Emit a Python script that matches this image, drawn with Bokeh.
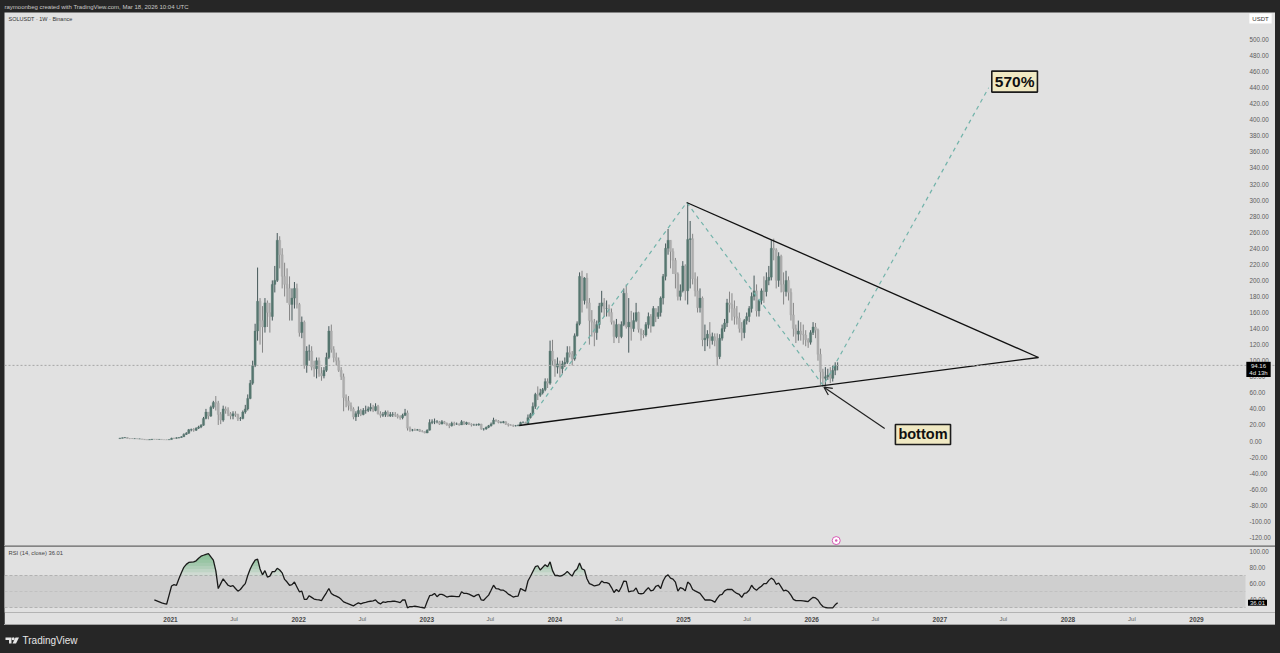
import numpy as np
import pandas as pd
from bokeh.embed import file_html
from bokeh.resources import INLINE
from bokeh.layouts import column
from bokeh.plotting import figure
from bokeh.models import (Range1d, LinearAxis, FixedTicker, PrintfTickFormatter, Label, Arrow,
                          OpenHead, Span, Div, GlobalInlineStyleSheet)

# ---- data: weekly candles from 2020-08-10
first_week = "2020-08-10"
c20 = [3.5,3.9,4.3,3.2,3.1,2.9,2.9,2.6,2.6,2.2,1.6,1.4,1.7,2.3,2.2,1.9,2.0,1.7,1.6,1.5,1.8]
h20 = [3.9,4.3,4.9,4.7,3.4,3.5,3.3,3.0,2.9,2.7,2.3,1.7,1.9,2.5,2.5,2.5,2.3,2.1,1.8,1.8,1.9]
l20 = [2.6,3.2,3.7,3.0,2.3,2.6,2.5,2.4,2.4,2.1,1.5,1.2,1.3,1.7,2.0,1.7,1.7,1.6,1.4,1.2,1.4]
c21 = [3.4,3.3,3.9,4.3,5.2,8.2,9.6,14,14.2,13.5,16,17.5,19.5,28,36,31,42,48,47,33,26,40,38,34,31,34,33,28,28,36,40,53,72,94,137,174,150,142,172,160,155,195,200,250,232,205,195,190,170,178,190,170]
h21 = [4.1,4.0,4.6,4.9,6.0,9.5,11,15,15.5,16,17,19,21,30,40,36,44,50,56,50,36,44,43,42,36,37,37,34,30,38,45,58,76,100,146,216,178,168,178,175,172,200,218,259,255,240,222,215,205,190,198,196]
l21 = [1.9,2.6,2.9,3.3,4.0,5.0,7.5,9,12,11.5,12.5,15,16,19,27,27,30,40,38,20,21,24,34,31,27,27,30,25,25,27,34,38,52,70,92,125,120,110,135,142,135,150,185,198,215,190,180,172,150,150,165,165]
c22 = [135,148,94,112,112,92,90,100,84,81,88,104,137,114,104,100,88,80,54,50,44,40,30,34,38,33,38,38,40,42,38,43,34,32,33,36,31,33,33,32,30,29,32,35,16,13.5,13.8,13.5,14,12,11.8,10]
h22 = [172,155,150,118,120,118,100,104,104,92,92,110,143,145,118,110,104,92,84,58,56,48,42,37,43,40,41,44,43,47,45,47,45,37,36,38,38,36,36,36,34,32,34,40,38,18,15,15.5,15,15,13.5,12.2]
l22 = [130,128,90,85,100,88,80,78,80,75,78,86,102,110,98,94,86,76,37,42,38,37,27,25,30,31,32,34,36,37,36,37,33,29,30,30,30,30,30,30,28,26.5,27,31,13,11.5,12,12.5,13,11.2,10.8,9.5]
c23 = [13.5,23,24,24,24,21,24,22,20,19,22,21,21,20,24,21,23,21,20,20,20,21,15,15,17,19,21,26,25,23,23,24,21,20,19.5,19,19,19.5,23,23,21,29,33,43,58,57,60,64,74,72,112,100]
h23 = [14.5,27,27,28,26,25,26,25,23,22,24,24,23,22,26,25,24,23,22,21.5,21.5,22,21.5,16,18,20,23,29,27,26,24.5,25,24.5,22,21,20.5,20,20.5,24,24.5,24,33,35,48,60,68,65,66,78,78,125,126]
l23 = [9.8,13,21,21,22,20,22,21,19,16,18,19,20,19,20,20,20,20,18,19,19,19,14,13,14,16,18,21,24,22,22,22,20,18,19,17.5,18,18.5,19,22,20,21,28,32,40,51,55,58,62,66,70,94]
c24 = [92,96,90,96,98,110,108,102,131,146,205,175,203,172,150,148,135,145,168,172,165,165,160,148,130,145,130,145,184,142,148,140,150,160,139,133,132,145,155,143,165,155,160,178,205,240,250,236,225,208,180,187,218]
h24 = [102,104,100,100,104,118,118,112,134,149,210,212,204,209,178,163,152,150,172,187,178,175,170,165,150,152,146,149,190,195,178,162,160,172,161,140,138,148,160,158,168,165,168,180,208,246,264,248,240,228,210,195,224]
l24 = [80,84,79,84,92,96,104,94,100,130,144,160,170,165,120,130,118,126,140,160,155,155,155,145,122,128,122,128,143,140,110,125,136,148,135,125,128,130,140,135,143,148,152,155,170,200,232,215,208,190,175,175,185]
c25 = [187,251,252,202,187,166,178,126,128,133,125,130,125,105,128,140,147,172,170,165,155,153,140,135,150,155,165,180,187,162,175,187,186,200,204,240,238,200,230,195,186,200,185,157,140,133,137,133,132,126,123,135]
h25 = [220,296,274,258,210,205,190,180,145,138,148,135,134,134,133,145,152,177,186,184,175,168,160,148,152,160,168,185,206,195,176,190,205,210,218,250,252,240,235,232,210,212,205,190,172,145,150,148,145,138,128,138]
l25 = [175,170,190,195,180,160,160,118,112,118,115,120,118,94,102,125,136,142,160,150,145,145,135,125,128,145,148,160,175,155,155,170,172,180,194,200,225,190,192,185,170,180,175,150,130,122,125,125,120,118,116,120]
c26 = [142,138,108,86,78,80,82,78,88,94,94.16]
h26 = [148,147,140,115,90,92,90,92,94,98,98]
l26 = [132,128,100,70,67,68,76,72,74,82,88]

# RSI(14) per week, starting 14 weeks after the first candle
rsi_values = [39.4,38.2,37.0,35.7,34.9,34.1,45.5,56.9,58.6,57.8,65.9,73.3,80.2,83.9,86.3,86.7,87.1,88.4,91.6,94.1,95.3,96.5,97.3,93.3,89.2,76.1,53.7,59.8,65.9,61.8,57.8,56.5,57.4,53.7,50.4,52.5,56.5,59.8,70,78.2,84.3,89.2,90.4,78.2,70.8,76.1,68,69.2,74.9,74.9,79,76.9,73.3,65.1,61.8,57.8,58.6,61.8,55.7,49.6,50.4,40.2,40.2,44.7,42.7,40.6,39.8,39.4,38.6,43.5,48.4,53.7,47.6,45.5,44.3,42.7,40.2,37,35.7,34.5,33.3,32,34.1,35.7,34.5,35.7,36.5,37.4,37.8,38.2,39.4,36.1,34.5,37,36.5,37.4,37.4,37.8,37.8,37,36.1,39.4,39.4,29.6,31.2,31.2,31.6,31.2,30.4,30,29.2,37.4,44.7,
45.5,47.6,43.5,46.3,46.3,45.1,43.1,43.9,44.3,43.9,43.5,43.5,49.6,47.6,47.6,46.7,45.1,43.5,45.5,46.3,39.4,39,42.3,45.5,51.6,57.8,53.7,53.3,51.6,51.6,49.6,46.7,45.1,43.1,43.9,44.3,53.7,52,50.4,63.1,68.8,74.9,81,82.2,76.9,80.2,83.5,81,87.1,76.1,70,70,69.2,70,72,74.9,72,69.2,75.3,78.2,85.5,78.2,76.9,65.9,59.8,58.6,56.9,57.8,58.6,63.1,61,61,59.8,54.9,48.8,52.5,49.6,55.7,63.1,62.7,49.6,50.4,50.8,54.5,47.6,47.2,47.6,51.6,54.9,50.8,51.6,56.5,57.8,53.7,63.1,68.8,70.8,66.7,65.5,61.8,50.4,54.9,53.7,50.8,61.8,59,52.5,50.8,49.2,47.6,43.5,39.4,39.4,39.4,38.6,36.5,41.4,45.5,46.3,50.8,52.5,52.5,52.5,49.6,47.6,46.3,42.7,47.6,48.4,51.6,57.8,53.7,51.6,54.5,56.5,59.8,59.8,63.9,66.7,64.7,59,60.6,55.7,50.8,51.6,49.6,45.5,40.2,38.6,38.6,38.6,38.2,37.8,37.4,40.2,42.7,41.9,39.4,34.5,31.2,30,29.6,29.6,29.6,33.3,36.0]

price_ticks = list(range(-120, 501, 20))
rsi_ticks = [40, 60, 80, 100]
year_labels = {"2021-01-01": "2021", "2022-01-01": "2022", "2023-01-01": "2023", "2024-01-01": "2024",
               "2025-01-01": "2025", "2026-01-01": "2026", "2027-01-01": "2027", "2028-01-01": "2028",
               "2029-01-01": "2029"}
month_labels = ["2021-07-01", "2022-07-01", "2023-07-01", "2024-07-01", "2025-07-01", "2026-07-01",
                "2027-07-01", "2028-07-01"]

# drawings on the chart, as date / price pairs
support_dates = ["2023-09-21", "2027-10-09"]
support_prices = [19.3, 104.0]
resist_dates = ["2025-01-10", "2027-10-09"]
resist_prices = [297.0, 104.0]
path_dates = ["2023-10-14", "2025-01-10", "2026-02-03", "2027-05-20"]
path_prices = [23.0, 297.0, 69.0, 440.0]
last_price = 94.16
last_rsi = 36.01

# ---- colours and layout
DARK = "#262626"
PANEL = "#e1e1e1"
BAND = "#cfcfcf"
SEP = "#a2a2a2"
UP, DOWN = "#56766f", "#adadad"
UPW, DOWNW = "#46585a", "#868686"
TEAL = "#72b3aa"
TAG = "#f0e9c3"
FONT = "Liberation Sans"
PANE_W = 1271   # panes run from x=4 to x=1275 of the window
PANE_MARGIN = (0, 5, 0, 4)

def ms(d):
    return pd.Timestamp(d).value / 1e6

T0 = ms("2021-01-01")
MS_PER_PX = 2922 / 1026 * 86400000
x_range = Range1d(T0 + (4 - 170) * MS_PER_PX, T0 + (1275 - 170) * MS_PER_PX)
PLOT_END = T0 + (1245 - 170) * MS_PER_PX

close = np.array(c20 + c21 + c22 + c23 + c24 + c25 + c26, dtype=float)
high = np.array(h20 + h21 + h22 + h23 + h24 + h25 + h26, dtype=float)
low = np.array(l20 + l21 + l22 + l23 + l24 + l25 + l26, dtype=float)
assert len(close) == len(high) == len(low) == 293, (len(close), len(high), len(low))
assert len(rsi_values) == 279, len(rsi_values)
opens = np.r_[3.0, close[:-1]]
high = np.maximum(high, np.maximum(opens, close))
low = np.minimum(low, np.minimum(opens, close))
dates = np.array([ms(d) for d in pd.date_range(first_week, periods=293, freq="7D")])
up = close >= opens
body_w = 6.3 * 86400000


def make_fig(height, y_range, frame_height):
    f = figure(width=PANE_W, height=height, x_range=x_range, y_range=y_range, output_backend="svg",
               toolbar_location=None, x_axis_location=None, y_axis_location=None,
               frame_width=PANE_W, frame_height=frame_height,
               min_border=0, min_border_left=0, min_border_right=0, min_border_top=0, min_border_bottom=0,
               background_fill_color=PANEL, border_fill_color=PANEL, outline_line_color=None, margin=PANE_MARGIN)
    f.grid.visible = False
    return f


def right_axis(f, ticks):
    # the tick labels are pulled back over the pane's right strip, so that the value tags can lie on them
    ax = LinearAxis(ticker=FixedTicker(ticks=ticks), formatter=PrintfTickFormatter(format="%.2f"),
                    axis_line_color=None, major_tick_line_color=None, minor_tick_line_color=None,
                    major_tick_out=0, major_tick_in=0, minor_tick_out=0, minor_tick_in=0,
                    major_label_text_font=FONT, major_label_text_font_size="6.3px",
                    major_label_text_color="#5c5c5c", major_label_standoff=-26)
    f.add_layout(ax, "right")


# ---- header
header = figure(width=1280, height=12, x_range=Range1d(0, 1280), y_range=Range1d(0, 12), output_backend="svg",
                toolbar_location=None, x_axis_location=None, y_axis_location=None, min_border=0,
                background_fill_color=DARK, border_fill_color=DARK, outline_line_color=None)
header.grid.visible = False
header.add_layout(Label(x=4, y=6, text="raymoonbeg created with TradingView.com, Mar 18, 2026 10:04 UTC",
                        text_color="#c9c9c9", text_font=FONT, text_font_size="6px", text_baseline="middle"))

# ---- price pane
price = make_fig(533, Range1d((440.5 - 545) / 0.803, (440.5 - 12) / 0.803), 533)
right_axis(price, price_ticks)
price.add_layout(Span(location=last_price, dimension="width", line_color="#a6a6a6", line_width=1, line_dash="2 2"))
for mask, wick, body in ((~up, DOWNW, DOWN), (up, UPW, UP)):
    price.segment(dates[mask], high[mask], dates[mask], low[mask], line_color=wick, line_width=1)
    price.vbar(x=dates[mask], width=body_w, top=np.maximum(opens, close)[mask], bottom=np.minimum(opens, close)[mask],
               fill_color=body, line_color=body, line_width=0.3)
price.line([ms(d) for d in path_dates], path_prices, line_color=TEAL, line_width=1.2, line_dash="4 4")
price.line([ms(d) for d in support_dates], support_prices, line_color="#111111", line_width=1.3)
price.line([ms(d) for d in resist_dates], resist_prices, line_color="#111111", line_width=1.3)
price.add_layout(Arrow(x_start=ms("2026-07-28"), y_start=15.6, x_end=ms("2026-02-05"), y_end=67.0,
                       line_color="#222222", line_width=1.2,
                       end=OpenHead(size=8, line_color="#222222", line_width=1.2)))
for text, when, y, size in (("bottom", "2026-11-14", 8.1, "14.5px"), ("570%", "2027-08-02", 447.6, "15.5px")):
    price.add_layout(Label(x=ms(when), y=y, text=text, text_font=FONT, text_font_style="bold",
                           text_font_size=size, text_color="#111111", text_align="center",
                           text_baseline="middle", background_fill_color=TAG, border_line_color="#1c1c1c",
                           border_line_width=1.6, padding=(3, 2)))
price.scatter([ms("2026-03-12")], [-124], size=8, fill_color="white", line_color="#d65ab4", line_width=1)
price.scatter([ms("2026-03-12")], [-124], size=2.5, fill_color="#d65ab4", line_color=None)
price.add_layout(Label(x=4, y=526, x_units="screen", text="SOLUSDT · 1W · Binance", text_font=FONT,
                       text_font_size="5.5px", text_color="#333333", text_baseline="middle"))
price.add_layout(Label(x=1256, y=526, x_units="screen", text="USDT", text_font=FONT, text_font_size="6px",
                       text_color="#333333", text_align="center", text_baseline="middle",
                       background_fill_color="#ffffff", padding=(3, 2)))
price.add_layout(Label(x=1254, y=last_price - 5, x_units="screen", text="94.16\n4d 13h", text_font=FONT,
                       text_font_size="6px", text_color="#e8e8e8", text_align="center", text_baseline="middle",
                       background_fill_color="#000000", padding=(3, 1)))

# ---- RSI pane
rsi_x = dates[14:]
rsi_y = np.array(rsi_values)
rsi = make_fig(78, Range1d(23.75, 106.25), 66)
right_axis(rsi, rsi_ticks)
year_axis = LinearAxis(ticker=FixedTicker(ticks=[ms(k) for k in year_labels]),
                       major_label_overrides={ms(k): v for k, v in year_labels.items()},
                       axis_line_color=None, major_tick_line_color=None, minor_tick_line_color=None,
                       major_tick_out=0, major_tick_in=0,
                       major_label_text_font=FONT, major_label_text_font_style="bold",
                       major_label_text_font_size="6.5px", major_label_text_color="#4a4a4a", major_label_standoff=4)
month_axis = LinearAxis(ticker=FixedTicker(ticks=[ms(k) for k in month_labels]),
                        major_label_overrides={ms(k): "Jul" for k in month_labels},
                        axis_line_color=None, major_tick_line_color=None, minor_tick_line_color=None,
                        major_tick_out=0, major_tick_in=0,
                        major_label_text_font=FONT, major_label_text_font_size="6px",
                        major_label_text_color="#666666", major_label_standoff=-9)
rsi.add_layout(year_axis, "below")
rsi.add_layout(month_axis, "below")
rsi.harea(y=[30, 70], x1=[x_range.start] * 2, x2=[PLOT_END] * 2, fill_color=BAND)
for level, alpha in ((70, 1.0), (50, 0.45), (30, 1.0)):
    rsi.segment(x_range.start, level, PLOT_END, level, line_color="#a8a8a8", line_width=0.8,
                line_dash="3 2", line_alpha=alpha)
for level in range(70, 98, 4):
    rsi.varea(x=rsi_x, y1=np.full(len(rsi_y), float(level)), y2=np.maximum(rsi_y, level),
              fill_color="#3fa45f", fill_alpha=0.11)
rsi.line(rsi_x, rsi_y, line_color="#1a1a1a", line_width=1.3)
rsi.add_layout(Label(x=4, y=98.7, x_units="screen", text="RSI (14, close)  36.01", text_font=FONT,
                     text_font_size="5.8px", text_color="#444444", text_baseline="middle"))
rsi.add_layout(Label(x=1253, y=last_rsi, x_units="screen", text="36.01", text_font=FONT, text_font_size="6px",
                     text_color="#e8e8e8", text_align="center", text_baseline="middle",
                     background_fill_color="#000000", padding=(2, 1)))

# ---- separators and footer
def sep():
    return Div(width=PANE_W, height=1, margin=PANE_MARGIN, styles={"background": SEP})

footer = figure(width=1280, height=28, x_range=Range1d(0, 1280), y_range=Range1d(28, 0), output_backend="svg",
                toolbar_location=None, x_axis_location=None, y_axis_location=None, min_border=0,
                background_fill_color=DARK, border_fill_color=DARK, outline_line_color=None)
footer.grid.visible = False
footer.patch([5, 11, 11, 8.5, 8.5, 5], [12, 12, 18, 18, 14.5, 14.5], fill_color="#e6e6e6", line_color=None)
footer.scatter([12.7], [13.2], size=3, fill_color="#e6e6e6", line_color=None)
footer.patch([15, 18.5, 15.5, 12], [12, 12, 18, 18], fill_color="#e6e6e6", line_color=None)
footer.text([22], [15.3], text=["TradingView"], text_color="#e6e6e6", text_font_size="10px",
            text_baseline="middle")

page = column(header, price, sep(), rsi, sep(), footer, spacing=0)
page.stylesheets = [GlobalInlineStyleSheet(css=f"body {{ background: {DARK}; }}")]

open("out.html", "w").write(file_html(page, INLINE))
